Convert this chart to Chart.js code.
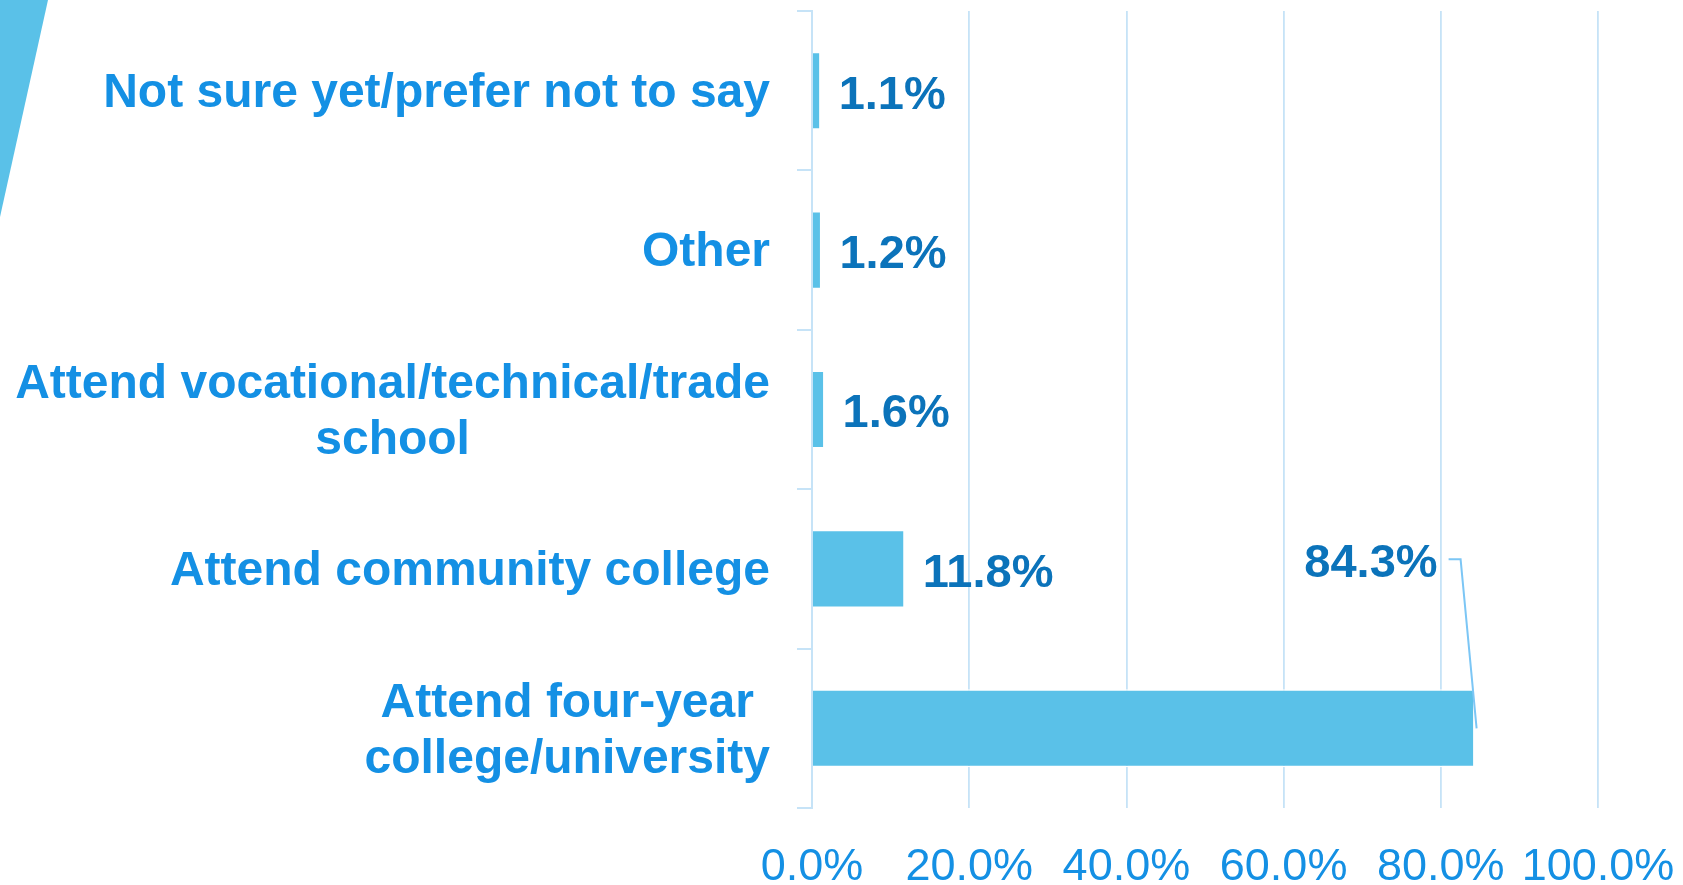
<!DOCTYPE html>
<html>
<head>
<meta charset="utf-8">
<title>Post high school plans</title>
<script src="https://cdn.jsdelivr.net/npm/chart.js@4.4.1/dist/chart.umd.min.js"></script>
<style>
    html, body {
        margin: 0;
        padding: 0;
        background: #ffffff;
        overflow: hidden;
    }
    #wrap {
        position: relative;
        width: 1683px;
        height: 885px;
    }
    #corner {
        position: absolute;
        left: 0;
        top: 0;
        width: 48px;
        height: 217px;
        background: #5ac1e8;
        clip-path: polygon(0 0, 100% 0, 0 100%);
    }
    #planChart {
        position: absolute;
        left: 0;
        top: 0;
    }
</style>
</head>
<body>
<div id="wrap">
    <div id="corner"></div>
    <canvas id="planChart" width="1683" height="885"></canvas>
</div>

<script>
//  Data (top to bottom)
const categories = [
    "Not sure yet/prefer not to say",
    "Other",
    ["Attend vocational/technical/trade", "school"],
    "Attend community college",
    ["Attend four-year", "college/university"]
];
const percentValues = [1.1, 1.2, 1.6, 11.8, 84.3];
const axisTicks = [0, 20, 40, 60, 80, 100];

const FONT = "'Liberation Sans', Arial, Helvetica, sans-serif";
const BAR_COLOR = "#5ac1e8";
const GRID_COLOR = "#c6e3f7";
const LABEL_COLOR = "#1490e4";
const VALUE_COLOR = "#0b73ba";

//  Category labels: block right-aligned to the axis, lines centred inside the block
const categoryLabels = {
    id: "categoryLabels",
    afterDraw(chart) {
        const ctx = chart.ctx;
        const yScale = chart.scales.y;
        const rightEdge = chart.chartArea.left - 42;
        const lineHeight = 56;

        ctx.save();
        ctx.font = `bold 48px ${FONT}`;
        ctx.fillStyle = LABEL_COLOR;
        ctx.textAlign = "center";
        ctx.textBaseline = "middle";

        categories.forEach((label, i) => {
            const lines = Array.isArray(label) ? label : [label];
            const maxW = Math.max(...lines.map(l => ctx.measureText(l).width));
            const cx = rightEdge - maxW / 2;
            const cy = yScale.getPixelForTick(i) + 3;
            lines.forEach((line, j) => {
                ctx.fillText(line, cx, cy + (j - (lines.length - 1) / 2) * lineHeight);
            });
        });
        ctx.restore();
    }
};

//  Value labels next to each bar, the long bar gets a callout line
const valueLabels = {
    id: "valueLabels",
    afterDatasetsDraw(chart) {
        const ctx = chart.ctx;
        const meta = chart.getDatasetMeta(0);

        ctx.save();
        ctx.font = `bold 47px ${FONT}`;
        ctx.fillStyle = VALUE_COLOR;
        ctx.textBaseline = "middle";

        meta.data.forEach((bar, i) => {
            const text = percentValues[i].toFixed(1) + "%";
            if (percentValues[i] > 50) {
                ctx.textAlign = "right";
                ctx.fillText(text, bar.x - 37, bar.y - 164);

                ctx.strokeStyle = "#7cc6f5";
                ctx.lineWidth = 2;
                ctx.beginPath();
                ctx.moveTo(bar.x - 26, bar.y - 169);
                ctx.lineTo(bar.x - 14, bar.y - 169);
                ctx.lineTo(bar.x + 2, bar.y);
                ctx.stroke();
            } else {
                ctx.textAlign = "left";
                ctx.fillText(text, bar.x + 18, bar.y + 5);
            }
        });
        ctx.restore();
    }
};

const ctx = document.getElementById("planChart").getContext("2d");

new Chart(ctx, {
    type: "bar",
    data: {
        labels: categories,
        datasets: [{
            data: percentValues,
            backgroundColor: BAR_COLOR,
            borderColor: "#ffffff",
            borderWidth: 1.5,
            barPercentage: 0.49,
            categoryPercentage: 1
        }]
    },
    options: {
        indexAxis: "y",
        responsive: false,
        devicePixelRatio: 1,
        animation: false,
        layout: {
            padding: { top: 11, right: 85, left: 0, bottom: 0 }
        },
        plugins: {
            legend: { display: false },
            tooltip: { enabled: false }
        },
        scales: {
            x: {
                min: axisTicks[0],
                max: axisTicks[axisTicks.length - 1],
                afterBuildTicks(scale) {
                    scale.ticks = axisTicks.map(v => ({ value: v }));
                },
                afterFit(scale) {
                    //  let the tick labels run into the margin, like the original
                    scale.height = 77;
                    scale.paddingLeft = 0;
                    scale.paddingRight = 0;
                },
                grid: {
                    color: GRID_COLOR,
                    lineWidth: 1.8,
                    drawTicks: false
                },
                border: { display: false },
                ticks: {
                    padding: 33,
                    color: LABEL_COLOR,
                    font: { family: FONT, size: 45 },
                    maxRotation: 0,
                    callback: v => Number(v).toFixed(1) + "%"
                }
            },
            y: {
                afterFit(scale) {
                    scale.width = 812;
                },
                grid: {
                    offset: true,
                    drawOnChartArea: false,
                    drawTicks: true,
                    tickLength: 15,
                    color: GRID_COLOR,
                    lineWidth: 2
                },
                border: {
                    display: true,
                    color: GRID_COLOR,
                    width: 2
                },
                ticks: { display: false }
            }
        }
    },
    plugins: [categoryLabels, valueLabels]
});
</script>
</body>
</html>
